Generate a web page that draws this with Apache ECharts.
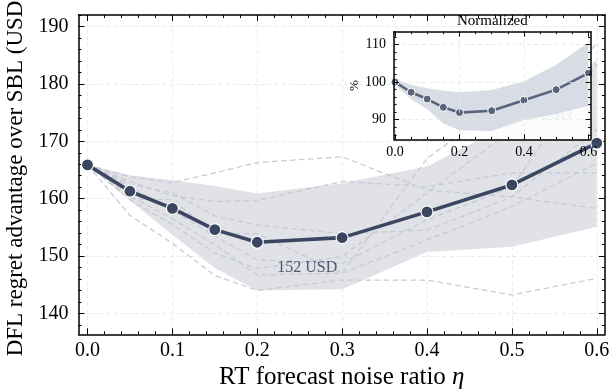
<!DOCTYPE html>
<html><head><meta charset="utf-8">
<script src="https://cdn.jsdelivr.net/npm/echarts@6/dist/echarts.min.js"></script>
<style>html,body{margin:0;padding:0;background:#fff}#c{width:610px;height:391px}</style>
</head><body><div id="c"></div>
<script>
// ---- data ----
const eta = [0, 0.05, 0.1, 0.15, 0.2, 0.3, 0.4, 0.5, 0.6];
const meanAdvantage = [165.9, 161.3, 158.3, 154.6, 152.4, 153.2, 157.7, 162.4, 169.7];
const bandLow  = [165.9, 159.7, 153.7, 147.9, 144.0, 144.2, 150.7, 151.6, 155.1];
const bandHigh = [165.9, 164.1, 163.2, 162.2, 160.9, 162.7, 165.6, 173.2, 184.2];
const seed1 = [165.9, 163.8, 162.8, 164.5, 166.3, 167.3, 161.5, 160.3, 158.3];
const seed2 = [165.9, 157.1, 152.2, 146.6, 144.0, 145.8, 145.8, 143.2, 146.1];
const seed3 = [165.9, 159.8, 155.5, 150.5, 147.8, 149.9, 161.0, 172.0, 187.0];
const seed4 = [165.9, 162.1, 158.0, 153.5, 149.3, 148.7, 156.3, 162.0, 183.5];
const seed5 = [165.9, 160.5, 156.5, 152.0, 146.7, 147.0, 152.8, 158.6, 166.2];
const seed6 = [165.9, 163.0, 160.5, 159.5, 159.7, 163.0, 162.1, 164.5, 164.5];
const seed7 = [165.9, 162.5, 161.0, 157.0, 155.4, 153.9, 154.5, 160.3, 172.0];
const seed8 = [165.9, 160.0, 159.8, 153.9, 153.9, 147.0, 167.0, 178.0, 180.0];
const normMean = [100.0, 97.3, 95.5, 93.3, 91.9, 92.4, 95.2, 98.0, 102.4];
const normLow  = [99.3, 95.5, 92.8, 89.0, 87.2, 87.0, 89.9, 91.5, 93.7];
const normHigh = [100.8, 99.3, 98.4, 97.7, 97.3, 97.9, 100.2, 104.6, 110.5];
// tick labels
const xTicks = [0, 0.1, 0.2, 0.3, 0.4, 0.5, 0.6];
const yTicks = [140, 150, 160, 170, 180, 190];
const insetXTicks = [0, 0.2, 0.4, 0.6];
const insetYTicks = [90, 100, 110];

// ---- helpers ----
const FONT = 'Liberation Serif';
const pairs = (xs, ys) => xs.map((x, i) => [x, ys[i]]);
function steps(a, b, s) { const out = []; for (let v = a; v <= b + 1e-9; v += s) out.push(+v.toFixed(4)); return out; }
const xMinor = steps(0, 0.6, 0.02), yMinor = steps(138, 192, 2);
const ixMinor = steps(0, 0.6, 0.05), iyMinor = steps(86, 112, 2);

const mainXR = {min: -0.0106, max: 0.6097}, mainYR = {min: 136.34, max: 192.04};
const insXR = {min: -0.003, max: 0.607}, insYR = {min: 84.8, max: 113.4};
const mainRect = {left: 78.5, top: 15, width: 526.5, height: 319.3};
const insRect = {left: 394, top: 31.7, width: 196.7, height: 107.6};

function axis(gridIndex, position, range, ticks, tickLen, showLine, extra) {
  return Object.assign({
    type: 'value', gridIndex, position, min: range.min, max: range.max,
    axisLine: {show: showLine, onZero: false, lineStyle: {color: '#000', width: 1.5}},
    axisTick: {show: true, inside: true, length: tickLen, customValues: ticks, lineStyle: {color: '#000', width: 1}},
    axisLabel: {show: false},
    splitLine: {show: false}
  }, extra || {});
}
const grid = {lineStyle: {color: '#e6e6e6', type: [4, 3], width: 0.8}};

const labelX = (fs, m, vals) => ({show: true, customValues: vals, formatter: v => v.toFixed(1), fontFamily: FONT, fontSize: fs, color: '#000', margin: m});
const labelY = (fs, m, vals) => ({show: true, customValues: vals, formatter: v => String(v), fontFamily: FONT, fontSize: fs, color: '#000', margin: m});

const xAxes = [
  axis(0, 'bottom', mainXR, xTicks, 6, true, {axisLabel: labelX(20, 6, xTicks), splitLine: Object.assign({show: true}, grid),
    name: 'RT forecast noise ratio {i|η}', nameLocation: 'middle', nameGap: 24,
    nameTextStyle: {fontFamily: FONT, fontSize: 25, color: '#000', rich: {i: {fontFamily: FONT, fontSize: 25, fontStyle: 'italic', color: '#000'}}}}),
  axis(0, 'top', mainXR, xTicks, 6, true),
  axis(1, 'bottom', mainXR, xMinor, 3, false),
  axis(1, 'top', mainXR, xMinor, 3, false),
  axis(2, 'bottom', insXR, insetXTicks, 5, true, {z: 16, axisLabel: labelX(14, 6, insetXTicks), splitLine: Object.assign({show: true}, grid)}),
  axis(2, 'top', insXR, insetXTicks, 5, true, {z: 16, name: 'Normalized', nameLocation: 'middle', nameGap: 3,
    nameTextStyle: {fontFamily: FONT, fontSize: 15, color: '#000'}}),
  axis(3, 'bottom', insXR, ixMinor, 2.5, false, {z: 16}),
  axis(3, 'top', insXR, ixMinor, 2.5, false, {z: 16})
];
const yAxes = [
  axis(0, 'left', mainYR, yTicks, 6, true, {axisLabel: labelY(20, 10, yTicks), splitLine: Object.assign({show: true}, grid),
    name: 'DFL regret advantage over SBL (USD)', nameLocation: 'middle', nameGap: 50.5, nameRotate: 90,
    nameTextStyle: {fontFamily: FONT, fontSize: 23, color: '#000'}}),
  axis(0, 'right', mainYR, yTicks, 6, true),
  axis(1, 'left', mainYR, yMinor, 3, false),
  axis(1, 'right', mainYR, yMinor, 3, false),
  axis(2, 'left', insYR, insetYTicks, 5, true, {z: 16, axisLabel: labelY(14, 8, insetYTicks), splitLine: Object.assign({show: true}, grid),
    name: '%', nameLocation: 'middle', nameGap: 32, nameRotate: 90, nameTextStyle: {fontFamily: FONT, fontSize: 13, color: '#000'}}),
  axis(2, 'right', insYR, insetYTicks, 5, true, {z: 16}),
  axis(3, 'left', insYR, iyMinor, 2.5, false, {z: 16}),
  axis(3, 'right', insYR, iyMinor, 2.5, false, {z: 16})
];

const MAIN = '#3b4761', BAND = '#e0e2e7', SEED = '#c6cad1';
const INS_LINE = '#58647c', INS_BAND = '#d7dce5';

// band drawn as one polygon through the axis scales
function bandSeries(xi, yi, xs, lo, hi, color, z) {
  return {
    type: 'custom', xAxisIndex: xi, yAxisIndex: yi, z, silent: true, clip: true,
    data: xs.map((x, i) => [x, lo[i], hi[i]]),
    encode: {x: 0, y: [1, 2]},
    renderItem: (params, api) => {
      if (params.dataIndex !== 0) return null;
      const top = xs.map((x, i) => api.coord([x, hi[i]]));
      const bot = xs.map((x, i) => api.coord([x, lo[i]])).reverse();
      return {type: 'polygon', shape: {points: top.concat(bot)}, style: {fill: color, stroke: null}};
    }
  };
}

const seeds = [seed1, seed2, seed3, seed4, seed5, seed6, seed7, seed8];
const series = [];
series.push(bandSeries(0, 0, eta, bandLow, bandHigh, BAND, 1));
seeds.forEach(s => series.push({type: 'line', xAxisIndex: 0, yAxisIndex: 0, data: pairs(eta, s), symbol: 'none', lineStyle: {color: SEED, width: 1.25, type: [5.5, 3.5]}, silent: true, z: 2}));

const minIdx = meanAdvantage.indexOf(Math.min(...meanAdvantage));
const lastIdx = meanAdvantage.length - 1;
const usdLabel = (dx, dy) => ({show: true, position: 'inside', offset: [dx, dy], formatter: p => Math.round(p.value[1]) + ' USD', fontFamily: FONT, fontSize: 16, color: '#4d5870'});
series.push({type: 'line', xAxisIndex: 0, yAxisIndex: 0, z: 5,
  data: pairs(eta, meanAdvantage).map((p, i) => i === minIdx ? {value: p, label: usdLabel(50, 26)} : (i === lastIdx ? {value: p, label: usdLabel(-55, -28)} : p)),
  symbol: 'circle', symbolSize: 12, showAllSymbol: true,
  lineStyle: {color: MAIN, width: 3.6}, itemStyle: {color: MAIN, borderColor: '#fff', borderWidth: 1.2}});

// inset
series.push(bandSeries(4, 4, eta, normLow, normHigh, INS_BAND, 13));
series.push({type: 'line', xAxisIndex: 4, yAxisIndex: 4, z: 15, data: pairs(eta, normMean), symbol: 'circle', symbolSize: 8, showAllSymbol: true,
  lineStyle: {color: INS_LINE, width: 2.6}, itemStyle: {color: INS_LINE, borderColor: '#fff', borderWidth: 1}});

const gbase = {containLabel: false, outerBoundsMode: 'none'};
const option = {
  animation: false,
  backgroundColor: '#fff',
  grid: [
    Object.assign({}, mainRect, gbase),
    Object.assign({}, mainRect, gbase),
    Object.assign({}, insRect, gbase, {show: true, backgroundColor: 'rgba(255,255,255,0.9)', borderWidth: 0, z: 10}),
    Object.assign({}, insRect, gbase)
  ],
  xAxis: xAxes,
  yAxis: yAxes,
  series
};
const chart = echarts.init(document.getElementById('c'), null, {renderer: 'canvas'});
chart.setOption(option);
</script></body></html>
